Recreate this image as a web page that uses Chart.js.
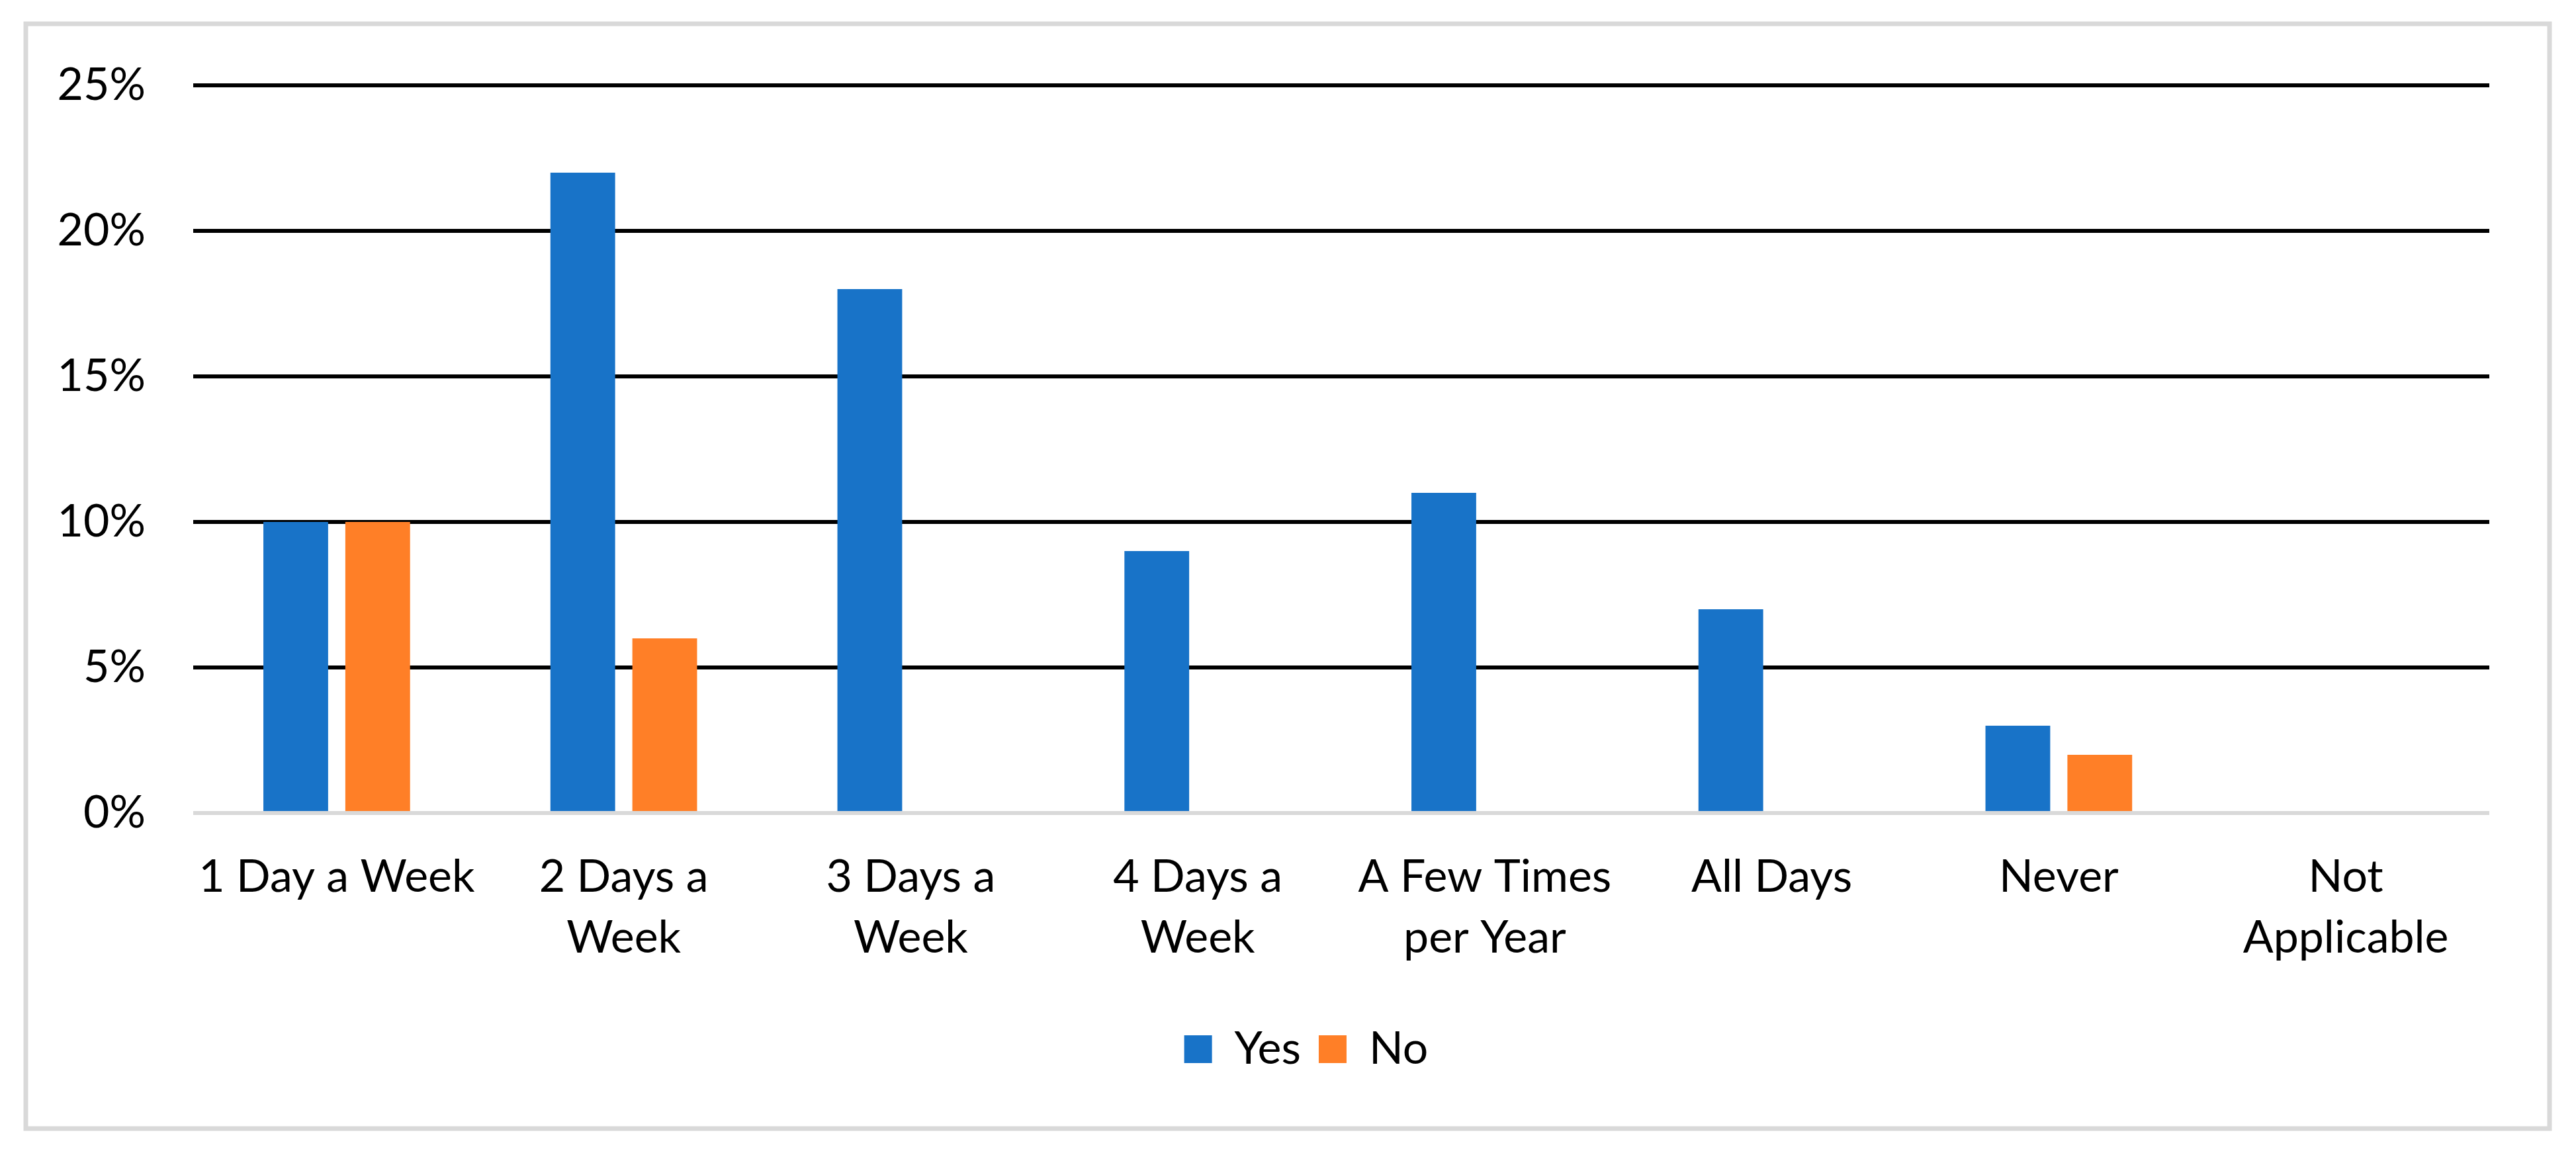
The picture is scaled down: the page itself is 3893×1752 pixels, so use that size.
<!DOCTYPE html>
<html>
<head>
<meta charset="utf-8">
<title>Days a Week</title>
<script src="https://cdn.jsdelivr.net/npm/chart.js@4/dist/chart.umd.min.js"></script>
<style>
  html, body { margin: 0; padding: 0; background: #ffffff; }
  canvas { display: block; }
</style>
</head>
<body>
<canvas id="chart" width="3893" height="1752"></canvas>
<script>
// chart data
const categories = [
    '1 Day a Week',
    ['2 Days a', 'Week'],
    ['3 Days a', 'Week'],
    ['4 Days a', 'Week'],
    ['A Few Times', 'per Year'],
    'All Days',
    'Never',
    ['Not', 'Applicable']
];
const yesValues = [10, 22, 18, 9, 11, 7, 3, 0];
const noValues = [10, 6, 0, 0, 0, 0, 2, 0];
const yTicks = [0, 5, 10, 15, 20, 25];

const fontFamily = 'Lato, "Noto Sans", sans-serif';
const padLeft = 186;
const plotLeft = 292;

// grey frame round the whole chart
const framePlugin = {
    id: 'frame',
    afterLayout(chart) {
        // let the y labels spill left of the narrow axis box
        chart.scales.y.left = 45;
    },
    beforeDraw(chart) {
        const ctx = chart.ctx;
        ctx.save();
        ctx.fillStyle = '#ffffff';
        ctx.fillRect(0, 0, chart.width, chart.height);
        ctx.strokeStyle = '#d9d9d9';
        ctx.lineWidth = 7;
        ctx.strokeRect(39, 36, 3853 - 39, 1706 - 36);
        ctx.restore();
    }
};

new Chart(document.getElementById('chart').getContext('2d'), {
    type: 'bar',
    data: {
        labels: categories,
        datasets: [{
            label: 'Yes',
            data: yesValues,
            backgroundColor: '#1873C8',
            barPercentage: 0.79,
            categoryPercentage: 0.571
        }, {
            label: 'No',
            data: noValues,
            backgroundColor: '#FF7F27',
            barPercentage: 0.79,
            categoryPercentage: 0.571
        }]
    },
    options: {
        responsive: false,
        animation: false,
        devicePixelRatio: 1,
        layout: {
            padding: { left: padLeft, right: 131, top: 129, bottom: 122 }
        },
        plugins: {
            legend: {
                position: 'bottom',
                labels: {
                    color: '#000000',
                    font: { family: fontFamily, size: 68 },
                    boxWidth: 42,
                    boxHeight: 42,
                    padding: 27
                }
            },
            tooltip: { enabled: false }
        },
        scales: {
            x: {
                grid: { display: false, drawTicks: false },
                border: { display: false },
                ticks: {
                    color: '#000000',
                    font: { family: fontFamily, size: 68, lineHeight: 1.34 },
                    padding: 52,
                    maxRotation: 0,
                    autoSkip: false
                },
                afterFit(scale) {
                    scale.height = 296;
                }
            },
            y: {
                min: 0,
                max: yTicks[yTicks.length - 1],
                afterBuildTicks(scale) {
                    scale.ticks = yTicks.map(v => ({ value: v }));
                },
                grid: {
                    drawTicks: false,
                    lineWidth: 6,
                    color: ctx => ctx.tick && ctx.tick.value === 0 ? '#d9d9d9' : '#000000'
                },
                border: { display: false },
                ticks: {
                    color: '#000000',
                    font: { family: fontFamily, size: 68 },
                    padding: 72,
                    callback: v => v + '%'
                },
                afterFit(scale) {
                    scale.width = plotLeft - padLeft;
                }
            }
        }
    },
    plugins: [framePlugin]
});
</script>
</body>
</html>
